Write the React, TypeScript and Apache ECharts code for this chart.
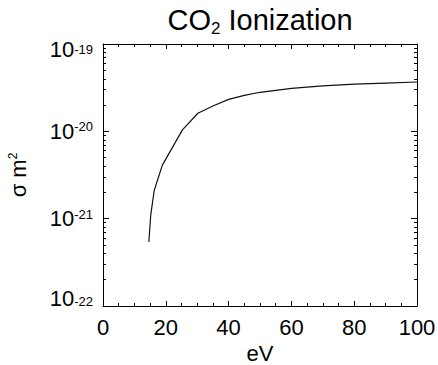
import React, { useEffect, useRef } from "react";
import * as echarts from "echarts";

// Electron energy (eV) and ionization cross-section (m^2)
const energyEv = [14.6, 15.2, 16.3, 18.9, 25.3, 30.2, 35, 40, 45, 50, 60, 70, 80, 90, 100];
const sigmaM2 = [
  5.4e-22, 1.1e-21, 2.1e-21, 4.1e-21, 1.04e-20, 1.61e-20, 1.95e-20, 2.32e-20,
  2.58e-20, 2.8e-20, 3.1e-20, 3.32e-20, 3.48e-20, 3.57e-20, 3.67e-20,
];

// Axis settings
const xMin = 0;
const xMax = 100;
const xStep = 20;
const yDecades = [-22, -21, -20, -19]; // log10 of 10^-22 ... 10^-19
const yMinorMultipliers = [2, 3, 4, 5, 6, 7, 8, 9];

const FONT = "'Liberation Sans', Arial, Helvetica, sans-serif";
const BLACK = "#000";

const GRID = { left: 103, right: 21, top: 44, bottom: 59 };
const CHART_H = 365;

function makeX(position: "top" | "bottom", gridIndex: number) {
  return {
    type: "value",
    gridIndex,
    position,
    min: xMin,
    max: xMax,
    interval: xStep,
    axisLine: { show: true, onZero: false, lineStyle: { color: BLACK, width: 1 } },
    axisTick: { show: true, inside: true, length: 5, lineStyle: { color: BLACK, width: 1 } },
    minorTick: { show: true, splitNumber: 4, length: 3, lineStyle: { color: BLACK, width: 1 } },
    splitLine: { show: false },
  };
}

function makeY(position: "left" | "right", minor: boolean, minorValues: number[]) {
  return {
    type: "value",
    gridIndex: 0,
    position,
    min: yDecades[0],
    max: yDecades[yDecades.length - 1],
    interval: 1,
    splitLine: { show: false },
    axisLine: { show: !minor, onZero: false, lineStyle: { color: BLACK, width: 1 } },
    axisTick: minor
      ? { show: true, inside: true, length: 3, customValues: minorValues.slice(), lineStyle: { color: BLACK, width: 1 } }
      : { show: true, inside: true, length: 6, lineStyle: { color: BLACK, width: 1 } },
    axisLabel: { show: false },
  };
}

export default function App() {
  const ref = useRef<HTMLDivElement>(null);

  useEffect(() => {
    if (!ref.current) return;
    const chart = echarts.init(ref.current, undefined, { renderer: "svg" });

    const yMin = yDecades[0];
    const yMax = yDecades[yDecades.length - 1];
    const minorValues: number[] = [];
    for (let i = 0; i < yDecades.length - 1; i++) {
      for (const m of yMinorMultipliers) minorValues.push(yDecades[i] + Math.log10(m));
    }

    const seriesData = energyEv.map((e, i) => [e, Math.log10(sigmaM2[i])]);

    const labelRich = {
      n: { fontSize: 22, fontFamily: FONT, color: BLACK, lineHeight: 22 },
      s: { fontSize: 13, fontFamily: FONT, color: BLACK, lineHeight: 13, verticalAlign: "top" },
      nT: { fontSize: 22, fontFamily: FONT, color: BLACK, lineHeight: 22, padding: [10, 0, 0, 0] },
      sT: { fontSize: 13, fontFamily: FONT, color: BLACK, lineHeight: 13, verticalAlign: "top", padding: [10, 0, 0, 0] },
      nB: { fontSize: 22, fontFamily: FONT, color: BLACK, lineHeight: 22, padding: [0, 0, 16, 0] },
      sB: { fontSize: 13, fontFamily: FONT, color: BLACK, lineHeight: 13, verticalAlign: "top", padding: [0, 0, 16, 0] },
    };

    const xBottom = {
      ...makeX("bottom", 0),
      name: "eV",
      nameLocation: "middle",
      nameGap: 35,
      nameTextStyle: { fontSize: 22, fontFamily: FONT, color: BLACK, lineHeight: 22 },
      axisLabel: { show: true, fontSize: 22, fontFamily: FONT, color: BLACK, margin: 10 },
    };
    // Mirror axis along the top edge, in an overlaid grid of the same size
    const xTop = {
      ...makeX("top", 1),
      axisLabel: { show: false },
    };
    const yHelper = {
      type: "value",
      gridIndex: 1,
      min: yMin,
      max: yMax,
      show: false,
      axisLine: { show: false, onZero: false },
      axisTick: { show: false },
      axisLabel: { show: false },
      splitLine: { show: false },
    };

    const yLeft = {
      ...makeY("left", false, minorValues),
      name: "σ m{sup|2}",
      nameLocation: "middle",
      nameGap: 74,
      nameRotate: 90,
      nameTextStyle: {
        fontSize: 22,
        fontFamily: FONT,
        color: BLACK,
        rich: {
          sup: { fontSize: 12, fontFamily: FONT, color: BLACK, lineHeight: 12, verticalAlign: "top" },
        },
      },
      axisLabel: {
        show: true,
        margin: 10,
        fontSize: 22,
        fontFamily: FONT,
        color: BLACK,
        formatter: (v: number) => {
          const e = Math.round(v);
          if (e === yMax) return `{nT|10}{sT|${e}}`;
          if (e === yMin) return `{nB|10}{sB|${e}}`;
          return `{n|10}{s|${e}}`;
        },
        rich: labelRich,
      },
    };

    chart.setOption({
      animation: false,
      backgroundColor: "#fff",
      title: {
        text: "CO{sub|2} Ionization",
        left: 260,
        textAlign: "center",
        top: 3,
        padding: 0,
        textStyle: {
          fontSize: 29,
          fontWeight: "normal",
          fontFamily: FONT,
          color: BLACK,
          lineHeight: 34,
          rich: {
            sub: { fontSize: 17, fontFamily: FONT, color: BLACK, lineHeight: 17, verticalAlign: "bottom" },
          },
        },
      },
      grid: [
        { ...GRID, containLabel: false, outerBoundsMode: "none" },
        { ...GRID, containLabel: false, outerBoundsMode: "none" },
      ],
      xAxis: [xBottom, xTop],
      yAxis: [
        yLeft,
        makeY("left", true, minorValues),
        makeY("right", false, minorValues),
        makeY("right", true, minorValues),
        yHelper,
      ],
      series: [
        {
          type: "line",
          xAxisIndex: 0,
          yAxisIndex: 0,
          data: seriesData,
          showSymbol: false,
          symbol: "none",
          lineStyle: { color: "#111", width: 1.2 },
        },
      ],
    });

    return () => chart.dispose();
  }, []);

  return (
    <div
      ref={ref}
      style={{ position: "absolute", left: 0, top: 0, width: 438, height: CHART_H, background: "#fff" }}
    />
  );
}
